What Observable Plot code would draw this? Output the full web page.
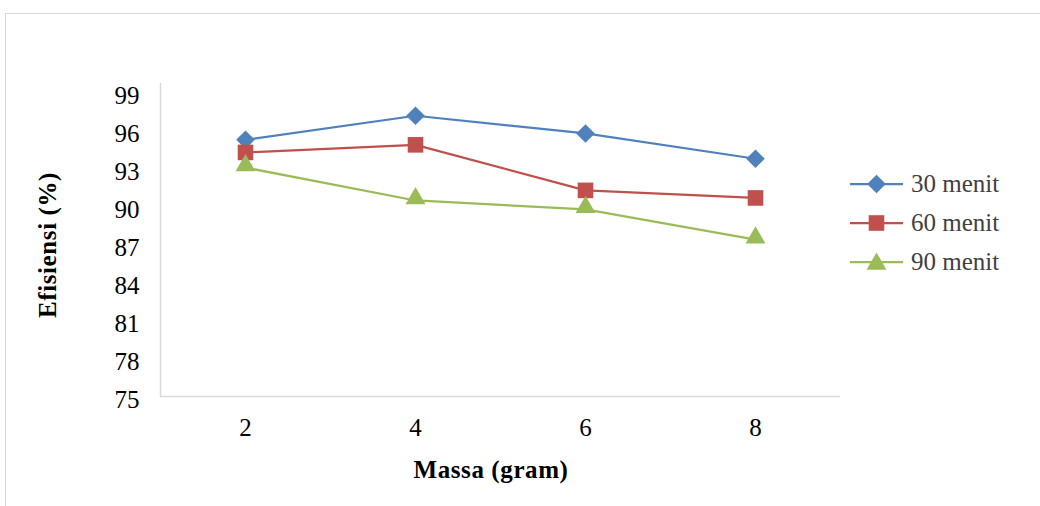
<!DOCTYPE html>
<html>
<head>
<meta charset="utf-8">
<script src="https://cdn.jsdelivr.net/npm/d3@7"></script>
<script src="https://cdn.jsdelivr.net/npm/@observablehq/plot@0.6"></script>
<style>
  html, body { margin: 0; padding: 0; background: #fff; }
  body { width: 1040px; height: 506px; position: relative; overflow: hidden; font-family: "Liberation Serif", "Times New Roman", serif; }
  #border { position: absolute; left: 5px; top: 13px; width: 1040px; height: 500px; border: 1.5px solid #d9d9d9; box-sizing: border-box; }
  #chart { position: absolute; left: 0; top: 0; }
  #ytitle { position: absolute; left: 48px; top: 245px; transform: translate(-50%, -50%) rotate(-90deg); font-weight: bold; font-size: 25px; letter-spacing: 0.6px; white-space: nowrap; color: #000; }
  #xtitle { position: absolute; left: 491px; top: 470px; transform: translate(-50%, -50%); font-weight: bold; font-size: 25px; letter-spacing: 0.6px; white-space: nowrap; color: #000; }
  #legend { position: absolute; left: 850px; top: 164px; }
  .item { display: flex; align-items: center; height: 39px; font-size: 25px; color: #404040; }
  .item svg { margin-right: 8px; }
</style>
</head>
<body>
<div id="border"></div>
<div id="chart"></div>
<div id="ytitle">Efisiensi (%)</div>
<div id="xtitle">Massa (gram)</div>
<div id="legend"></div>
<script>
const massa = [2, 4, 6, 8];
const menit30 = [95.3, 97.2, 95.8, 93.8];
const menit60 = [94.3, 94.9, 91.3, 90.7];
const menit90 = [93.1, 90.5, 89.8, 87.4];
const seriesNames = ["30 menit", "60 menit", "90 menit"];
const seriesColors = ["#4f81bd", "#c0504d", "#9bbb59"];
const seriesSymbols = ["diamond2", "square", "triangle"];
const seriesR = [8.4, 8.8, 7.4];
const yTicks = [75, 78, 81, 84, 87, 90, 93, 96, 99];

const seriesValues = [menit30, menit60, menit90];
const data = [];
seriesNames.forEach((name, i) => {
  massa.forEach((m, j) => data.push({series: name, massa: m, value: seriesValues[i][j]}));
});

const font = "Liberation Serif, Times New Roman, serif";
const marks = [
  Plot.ruleY([75], {stroke: "#d9d9d9", strokeWidth: 1.5}),
  Plot.frame({anchor: "left", stroke: "#d9d9d9", strokeWidth: 1.5}),
  Plot.axisY({ticks: yTicks, tickSize: 0, tickPadding: 21, fontSize: 25, fontFamily: font, label: null, dy: 3, color: "#000"}),
  Plot.axisX({tickSize: 0, tickPadding: 22, fontSize: 25, fontFamily: font, label: null, color: "#000"})
];
seriesNames.forEach((name, i) => {
  const d = data.filter(r => r.series === name);
  marks.push(Plot.line(d, {x: "massa", y: "value", stroke: seriesColors[i], strokeWidth: 2.25}));
  marks.push(Plot.dot(d, {x: "massa", y: "value", fill: seriesColors[i], stroke: "none", symbol: () => seriesSymbols[i], r: seriesR[i], dy: i === 2 ? -2 : 0}));
});

const chart = Plot.plot({
  width: 1040,
  height: 506,
  marginLeft: 160,
  marginRight: 200,
  marginTop: 83,
  marginBottom: 110,
  style: {fontFamily: font, background: "transparent"},
  x: {type: "point", domain: massa, padding: 0.5},
  y: {domain: [75, 99.75]},
  symbol: {type: "identity"},
  marks
});
document.getElementById("chart").append(chart);

// legend
const legend = d3.select("#legend");
seriesNames.forEach((name, i) => {
  const item = legend.append("div").attr("class", "item");
  const svg = item.append("svg").attr("width", 53).attr("height", 22);
  svg.append("line").attr("x1", 0).attr("x2", 53).attr("y1", 11).attr("y2", 11)
    .attr("stroke", seriesColors[i]).attr("stroke-width", 2.25);
  const sym = {diamond2: d3.symbolDiamond2, square: d3.symbolSquare, triangle: d3.symbolTriangle}[seriesSymbols[i]];
  svg.append("path").attr("d", d3.symbol(sym, Math.PI * seriesR[i] * seriesR[i])())
    .attr("transform", `translate(26.5,${i === 2 ? 13 : 11})`).attr("fill", seriesColors[i]);
  item.append("span").text(name);
});
</script>
</body>
</html>
